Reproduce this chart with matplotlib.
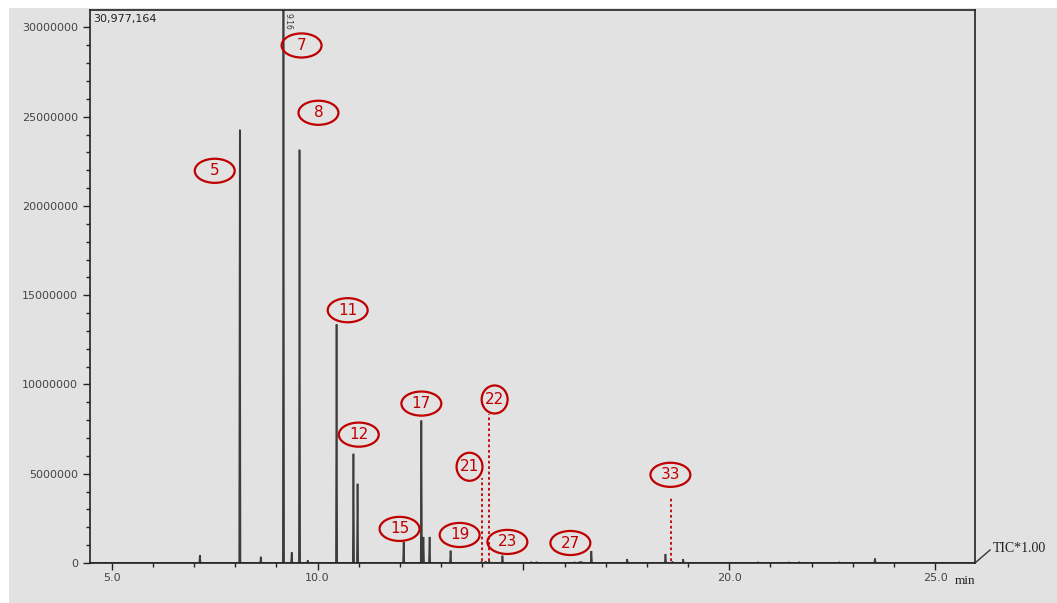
import numpy as np
import matplotlib
matplotlib.use("Agg")
from matplotlib import pyplot as plt
from matplotlib.patches import Ellipse, Rectangle
from matplotlib.lines import Line2D

# retention time (min) and height (counts) of the peaks in the trace
peak_rt = [7.14, 8.11, 8.62, 9.17, 9.37, 9.56, 9.76, 10.46, 10.87, 10.97,
           12.09, 12.52, 12.57, 12.72, 13.23, 13.98, 14.08, 14.17, 14.49,
           15.19, 15.32, 16.24, 16.36, 16.41, 16.65, 17.52, 18.45, 18.62,
           18.88, 20.70, 21.45, 21.70, 22.67, 23.54]
peak_height = [0.45e6, 24.27e6, 0.35e6, 33.0e6, 0.60e6, 23.15e6, 0.15e6,
               13.37e6, 6.12e6, 4.44e6, 1.18e6, 7.98e6, 1.46e6, 1.46e6,
               0.69e6, 0.08e6, 0.10e6, 0.10e6, 0.41e6, 0.06e6, 0.06e6,
               0.05e6, 0.07e6, 0.08e6, 0.67e6, 0.22e6, 0.50e6, 0.08e6,
               0.22e6, 0.05e6, 0.05e6, 0.06e6, 0.05e6, 0.25e6]

# circled compound numbers: label, position of the ellipse centre
label_ids = ["5", "7", "8", "11", "12", "15", "17", "19", "21", "22", "23", "27", "33"]
label_rt = [7.50, 9.61, 10.02, 10.73, 11.00, 11.99, 12.52, 13.45, 13.69, 14.30, 14.61, 16.14, 18.57]
label_y = [21.97e6, 28.99e6, 25.22e6, 14.16e6, 7.19e6, 1.91e6, 8.93e6, 1.57e6,
           5.39e6, 9.16e6, 1.18e6, 1.12e6, 4.94e6]

# dotted markers for the minor compounds
marker_rt = [14.00, 14.17, 18.59]
marker_top = [4.78e6, 8.37e6, 3.76e6]

y_max = 30977164
x_min, x_max = 4.47, 25.97
bg = "#e2e2e2"
red = "#c00000"

fig = plt.figure(figsize=(10.57, 6.03), dpi=100, facecolor="white")
fig.patches.append(Rectangle((9 / 1057, 0), 1, 1 - 8 / 603, transform=fig.transFigure,
                             facecolor=bg, edgecolor="none", zorder=-10))
ax = fig.add_axes([90 / 1057, 1 - 563 / 603, 885 / 1057, 553 / 603])
ax.set_facecolor(bg)

# build the trace from the peak table
hw = 0.015
tx, ty = [x_min], [0.0]
for rt, h in sorted(zip(peak_rt, peak_height)):
    tx += [rt - hw, rt, rt + hw]
    ty += [0.0, h, 0.0]
tx.append(x_max)
ty.append(0.0)
ax.plot(tx, ty, color="#3c3c3c", lw=1.2, solid_joinstyle="miter")

for rt, top in zip(marker_rt, marker_top):
    ax.plot([rt, rt], [0.1e6, top], color=red, lw=1.3, ls=(0, (1.5, 1.5)))

for lab, lx, ly in zip(label_ids, label_rt, label_y):
    if lab in ("21", "22"):
        w, h = 0.63, 1.57e6
    else:
        w, h = 0.97, 1.35e6
    ax.add_patch(Ellipse((lx, ly), w, h, facecolor="none", edgecolor=red, lw=1.6, zorder=5))
    ax.text(lx, ly, lab, color=red, fontsize=11, ha="center", va="center", zorder=6)

ax.set_xlim(x_min, x_max)
ax.set_ylim(0, y_max)
ax.set_xticks([5, 10, 15, 20, 25])
ax.set_xticklabels(["5.0", "10.0", "", "20.0", "25.0"])
ax.set_xticks(np.arange(5, 26, 1), minor=True)
ax.set_yticks([0, 5e6, 10e6, 15e6, 20e6, 25e6, 30e6])
ax.set_yticklabels(["0", "5000000", "10000000", "15000000", "20000000", "25000000", "30000000"])
ax.set_yticks(np.arange(0, 31e6, 1e6), minor=True)
ax.tick_params(axis="both", which="major", labelsize=8, labelcolor="#444444", length=5, width=1, color="#222222")
ax.tick_params(axis="both", which="minor", length=3, width=1, color="#222222")
ax.tick_params(axis="x", pad=2)
for s in ax.spines.values():
    s.set_color("#222222")
    s.set_linewidth(1.2)

ax.text(0.004, 0.992, "30,977,164", transform=ax.transAxes, fontsize=8, color="#222222",
        ha="left", va="top")
ax.text(9.27, y_max * 0.995, "9.16", rotation=270, fontsize=5.5, color="#333333",
        ha="center", va="top")

fig.add_artist(Line2D([975 / 1057, 990 / 1057], [1 - 563 / 603, 1 - 550 / 603],
                      transform=fig.transFigure, color="#333333", lw=1))
fig.text(993 / 1057, 1 - 549 / 603, "TIC*1.00", fontsize=10, family="Liberation Serif",
         color="#222222", ha="left", va="center")
fig.text(965 / 1057, 1 - 581 / 603, "min", fontsize=9.5, family="Liberation Serif",
         color="#222222", ha="center", va="center")

fig.savefig("out.png", dpi=100, facecolor="white")
